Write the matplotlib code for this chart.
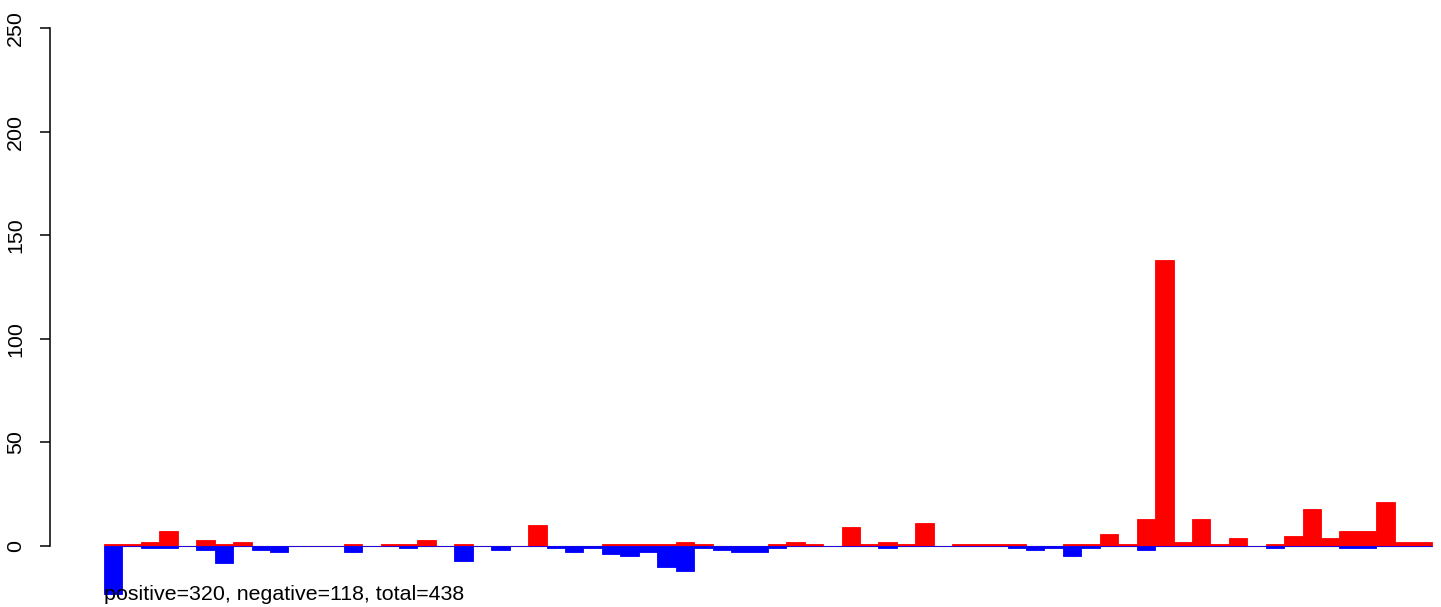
import matplotlib
matplotlib.use('Agg')
import matplotlib.pyplot as plt
import numpy as np

# counts per bin (positive = red, negative = blue, drawn downward)
pos_counts = [1, 1, 2, 7, 0, 3, 1, 2, 0, 0,
              0, 0, 0, 1, 0, 1, 1, 3, 0, 1,
              0, 0, 0, 10, 0, 0, 0, 1, 1, 1,
              1, 2, 1, 0, 0, 0, 1, 2, 1, 0,
              9, 1, 2, 1, 11, 0, 1, 1, 1, 1,
              0, 0, 1, 1, 6, 1, 13, 138, 2, 13,
              1, 4, 0, 1, 5, 18, 4, 7, 7, 21,
              2, 2]
neg_counts = [23, 0, 1, 1, 0, 2, 8, 0, 2, 3,
              0, 0, 0, 3, 0, 0, 1, 0, 0, 7,
              0, 2, 0, 0, 1, 3, 1, 4, 5, 3,
              10, 12, 1, 2, 3, 3, 1, 0, 0, 0,
              0, 0, 1, 0, 0, 0, 0, 0, 0, 1,
              2, 1, 5, 1, 0, 0, 2, 0, 0, 0,
              0, 0, 0, 1, 0, 0, 0, 1, 1, 0,
              0, 0]
y_ticks = [0, 50, 100, 150, 200, 250]

n_pos = sum(pos_counts)
n_neg = sum(neg_counts)
label = f'positive={n_pos}, negative={n_neg}, total={n_pos + n_neg}'

plt.rcParams['font.family'] = ['Liberation Sans', 'DejaVu Sans']

W, H = 1441, 607
fig = plt.figure(figsize=(W / 100, H / 100), dpi=100)
fig.patch.set_facecolor('white')

left_px = 50
ax = fig.add_axes([left_px / W, 0, 1 - left_px / W, 1])

bar_px = 18.44
x0_px = 104
ax.set_xlim(-(x0_px - left_px) / bar_px, (W - x0_px) / bar_px)

px_per_unit = (546 - 28) / 250
ax.set_ylim(-(H - 546) / px_per_unit, 250 + 28 / px_per_unit)

x = np.arange(len(pos_counts))
ax.axhline(0, xmin=(x0_px - left_px) / (W - left_px), xmax=(1432 - left_px) / (W - left_px),
           color='#BEBEBE', lw=1.0, zorder=1)
ax.bar(x, pos_counts, width=1, align='edge', color='#FF0000',
       edgecolor='#FF0000', linewidth=0.6, zorder=2)
ax.bar(x, -np.array(neg_counts), width=1, align='edge', color='#0000FF',
       edgecolor='#0000FF', linewidth=0.6, zorder=3)

for s in ['top', 'right', 'bottom']:
    ax.spines[s].set_visible(False)
ax.spines['left'].set_bounds(0, 250)
ax.spines['left'].set_linewidth(1.1)
ax.set_xticks([])
ax.set_yticks(y_ticks)
ax.set_yticklabels([str(v) for v in y_ticks], rotation=90, va='center', fontsize=15.4)
ax.tick_params(axis='y', length=7, width=1.1, pad=11)

ax.text(0, -(594 - 546) / px_per_unit, label, ha='left', va='center', fontsize=15.4, zorder=5)

fig.savefig('out.png', dpi=100, facecolor='white')
